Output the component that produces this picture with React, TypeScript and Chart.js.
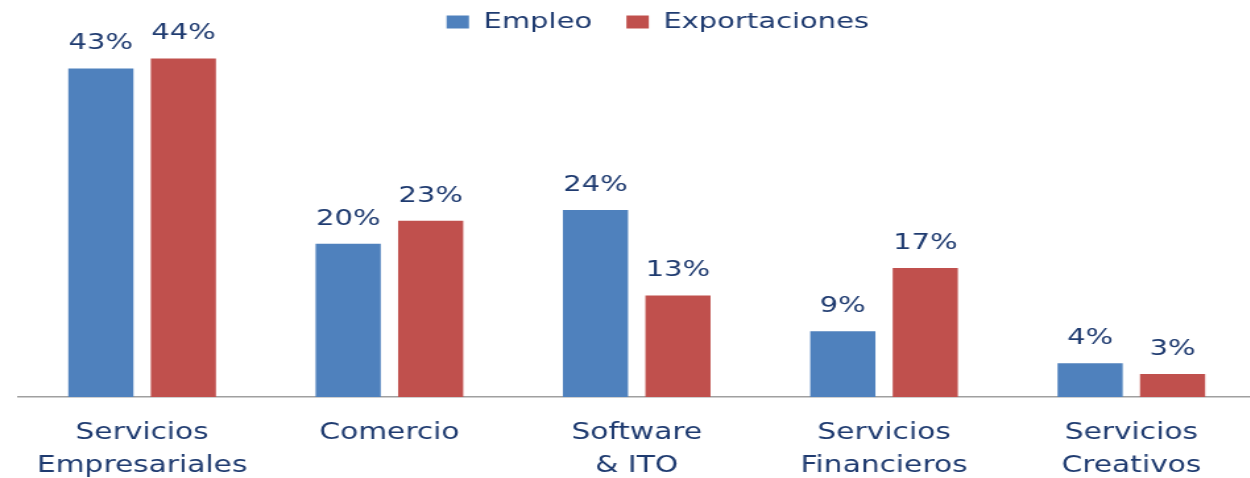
import React, { useEffect, useRef } from "react";
import { Chart, registerables } from "chart.js";

Chart.register(...registerables);

const categories: (string | string[])[] = [
  ["Servicios", "Empresariales"],
  "Comercio",
  ["Software", "& ITO"],
  ["Servicios", "Financieros"],
  ["Servicios", "Creativos"],
];
const empleo = [42.7, 19.9, 24.3, 8.55, 4.4];
const exportaciones = [44.0, 22.9, 13.2, 16.75, 3.0];
const seriesNames = ["Empleo", "Exportaciones"];
const seriesColors = ["#4F81BD", "#C0504D"];

const TEXT = "#1F3B70";
const FONT = "DejaVu Sans";

const dataLabels = {
  id: "dataLabels",
  afterDatasetsDraw(chart: any) {
    const ctx = chart.ctx;
    ctx.save();
    ctx.font = `22px "${FONT}"`;
    ctx.fillStyle = TEXT;
    ctx.textAlign = "center";
    ctx.textBaseline = "alphabetic";
    chart.data.datasets.forEach((ds: any, i: number) => {
      const meta = chart.getDatasetMeta(i);
      meta.data.forEach((el: any, j: number) => {
        const v = ds.data[j] as number;
        ctx.fillText(`${Math.round(v)}%`, el.x, el.y - 19);
      });
    });
    ctx.restore();
  },
};

const legendShift = {
  id: "legendShift",
  afterLayout(chart: any) {
    const l = chart.legend;
    if (l) {
      l.left += 16;
      l.right += 16;
    }
  },
};

export default function App() {
  const ref = useRef<HTMLCanvasElement | null>(null);
  useEffect(() => {
    if (!ref.current) return;
    const chart = new Chart(ref.current, {
      type: "bar",
      data: {
        labels: categories,
        datasets: [
          { label: seriesNames[0], data: empleo, backgroundColor: seriesColors[0] },
          { label: seriesNames[1], data: exportaciones, backgroundColor: seriesColors[1] },
        ],
      },
      options: {
        animation: false,
        responsive: false,
        devicePixelRatio: 1,
        events: [],
        layout: { padding: { left: 14, right: 0, top: -15, bottom: 0 } },
        datasets: {
          bar: { categoryPercentage: 0.667, barPercentage: 0.79 },
        },
        plugins: {
          legend: {
            position: "top",
            align: "center",
            labels: {
              boxWidth: 17,
              boxHeight: 13,
              padding: 26,
              color: TEXT,
              font: { family: FONT, size: 22 },
            },
          },
          tooltip: { enabled: false },
        },
        scales: {
          x: {
            grid: { display: false, drawTicks: false },
            border: { display: true, color: "#A0A0A0", width: 1.5 },
            ticks: {
              color: TEXT,
              font: { family: FONT, size: 22.5, lineHeight: 33 / 22.5 },
              padding: 20,
              maxRotation: 0,
              autoSkip: false,
            },
            afterFit: (scale: any) => {
              scale.height = 81;
            },
          },
          y: {
            display: false,
            min: 0,
            max: 46,
          },
        },
      },
      plugins: [dataLabels, legendShift],
    });
    return () => chart.destroy();
  }, []);

  return (
    <div
      style={{
        position: "fixed",
        left: 0,
        top: 0,
        width: 1250,
        height: 478,
        overflow: "hidden",
        background: "#fff",
      }}
    >
      <canvas
        ref={ref}
        width={952}
        height={478}
        style={{ width: "1255px", height: "478px", display: "block" }}
      />
    </div>
  );
}
